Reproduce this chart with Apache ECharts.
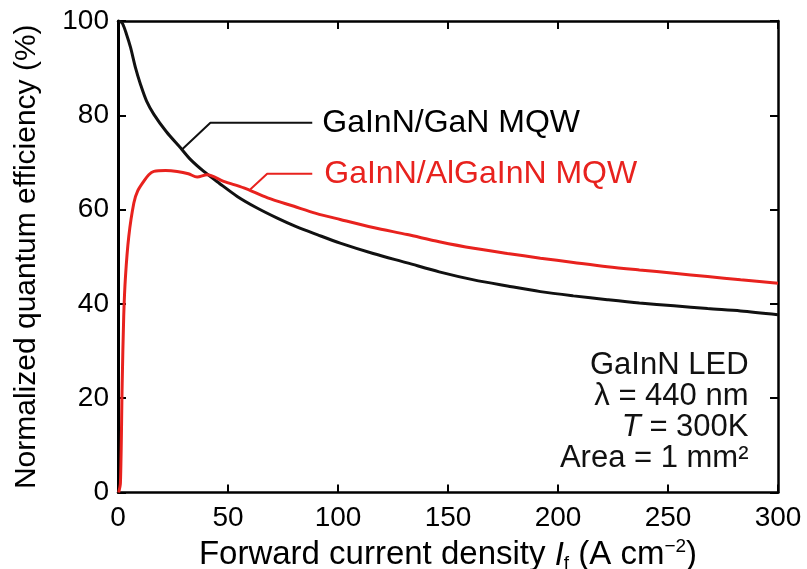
<!DOCTYPE html>
<html><head><meta charset="utf-8">
<script src="https://cdn.jsdelivr.net/npm/echarts@6/dist/echarts.min.js"></script>
<style>html,body{margin:0;padding:0;background:#fff}#c{width:807px;height:569px}</style>
</head><body><div id="c"></div>
<script>
// Tick values
const xTicks = [0, 50, 100, 150, 200, 250, 300];
const yTicks = [0, 20, 40, 60, 80, 100];

// GaInN/GaN MQW (black)
const ganX = [0.5, 2, 4, 5.7, 8, 10.2, 13, 16.3, 22, 28.4, 33, 39, 46, 54.2, 63, 72.4, 81, 90.5, 101, 116, 131.5, 146, 161.7, 177, 192, 207, 222.4, 237, 252.7, 268, 283, 300];
const ganY = [100, 99.5, 97, 94.4, 90, 86.6, 83, 80.2, 76.5, 73.1, 70.6, 68.1, 65.6, 62.8, 60.4, 58.2, 56.4, 54.7, 52.9, 50.7, 48.7, 46.8, 45.1, 43.8, 42.6, 41.7, 40.9, 40.2, 39.6, 39.0, 38.5, 37.7];

// GaInN/AlGaInN MQW (red)
const alganX = [0.3, 1.1, 1.9, 2.6, 3.4, 4.9, 7.2, 9, 11.7, 14, 16.3, 21.6, 26.9, 32, 36, 40.5, 48, 57.2, 68, 80, 90, 101, 116, 131.5, 146, 161.7, 177, 192, 207, 222.4, 237, 252.7, 268, 283, 300];
const alganY = [0, 2, 23, 37.4, 45.8, 54.3, 61.4, 64, 66, 67.4, 68.1, 68.3, 68.1, 67.6, 66.9, 67.4, 66, 64.6, 62.5, 60.7, 59.2, 57.9, 56.2, 54.7, 53.2, 51.8, 50.7, 49.7, 48.8, 47.9, 47.2, 46.5, 45.8, 45.1, 44.4];

// Leader lines for the curve labels (data coordinates)
const ganLeaderX = [29.2, 42, 88.3];
const ganLeaderY = [72.8, 78.4, 78.4];
const alganLeaderX = [60.2, 67.8, 88.3];
const alganLeaderY = [64.3, 67.6, 67.6];

const ganLabel = 'GaInN/GaN MQW';
const alganLabel = 'GaInN/AlGaInN MQW';
const infoLines = ['GaInN LED', 'λ = 440 nm', '{it|T} = 300K', 'Area = 1 mm²'];
const infoAnchor = [286.6, 30.3];

const FONT = 'Liberation Sans, Arial, Helvetica, sans-serif';
const BLACK = '#111111';
const RED = '#e8221e';

const zip = (a, b) => a.map((v, i) => [v, b[i]]);

const chart = echarts.init(document.getElementById('c'), null, {renderer: 'canvas'});

function baseAxis(min, max, interval, extra) {
  return Object.assign({
    type: 'value', min: min, max: max, interval: interval,
    axisLine: {show: true, onZero: false, lineStyle: {color: '#000', width: 2.5}},
    axisTick: {show: true, inside: true, length: 8, lineStyle: {color: '#000', width: 2}},
    splitLine: {show: false},
    axisLabel: {show: false}
  }, extra);
}

chart.setOption({
  animation: false,
  backgroundColor: '#fff',
  textStyle: {fontFamily: FONT},
  grid: {left: 118, right: 29, top: 21, bottom: 76.5, outerBoundsMode: 'none', containLabel: false},
  xAxis: [
    baseAxis(0, 300, 50, {
      position: 'bottom',
      axisLabel: {show: true, color: '#000', fontSize: 28, margin: 12, fontFamily: FONT},
      name: 'Forward current density {it|I}{sub|f} (A cm{sup|−2})',
      nameLocation: 'middle', nameGap: 40,
      nameTextStyle: {
        color: '#000', fontSize: 33, fontFamily: FONT, lineHeight: 36,
        rich: {
          it: {fontSize: 33, fontStyle: 'italic', fontFamily: FONT, color: '#000', lineHeight: 36},
          sub: {fontSize: 19, fontFamily: FONT, color: '#000', verticalAlign: 'bottom', lineHeight: 22},
          sup: {fontSize: 19, fontFamily: FONT, color: '#000', verticalAlign: 'top', lineHeight: 24}
        }
      }
    }),
    baseAxis(0, 300, 50, {position: 'top'})
  ],
  yAxis: [
    baseAxis(0, 100, 20, {
      position: 'left',
      axisLine: {show: true, onZero: false, lineStyle: {color: '#000', width: 3}},
      axisLabel: {show: true, color: '#000', fontSize: 28, margin: 9, fontFamily: FONT},
      name: 'Normalized quantum efficiency (%)',
      nameLocation: 'middle', nameGap: 76,
      nameTextStyle: {color: '#000', fontSize: 30, fontFamily: FONT}
    }),
    baseAxis(0, 100, 20, {position: 'right'})
  ],
  series: [
    {
      type: 'line', name: ganLabel, data: zip(ganX, ganY), showSymbol: false, smooth: 0.3,
      lineStyle: {color: BLACK, width: 3}, z: 3
    },
    {
      type: 'line', name: alganLabel, data: zip(alganX, alganY), showSymbol: false, smooth: 0.3,
      lineStyle: {color: RED, width: 3}, z: 4
    },
    {
      type: 'line', data: zip(ganLeaderX, ganLeaderY), showSymbol: false,
      lineStyle: {color: BLACK, width: 2},
      endLabel: {show: true, formatter: ganLabel, color: '#000', fontSize: 32, fontFamily: FONT, distance: 10}
    },
    {
      type: 'line', data: zip(alganLeaderX, alganLeaderY), showSymbol: false,
      lineStyle: {color: RED, width: 2},
      endLabel: {show: true, formatter: alganLabel, color: RED, fontSize: 32, fontFamily: FONT, distance: 12}
    }
  ]
});

const ap = chart.convertToPixel({xAxisIndex: 0, yAxisIndex: 0}, infoAnchor);
chart.setOption({
  graphic: [{
    type: 'text', x: ap[0], y: ap[1], z: 10,
    style: {
      text: infoLines.join('\n'),
      align: 'right', verticalAlign: 'top',
      fill: '#111', fontSize: 31, fontFamily: FONT, lineHeight: 31,
      rich: {
        it: {fontStyle: 'italic', fontSize: 31, fontFamily: FONT, fill: '#111', lineHeight: 31}
      }
    }
  }]
});
</script></body></html>
